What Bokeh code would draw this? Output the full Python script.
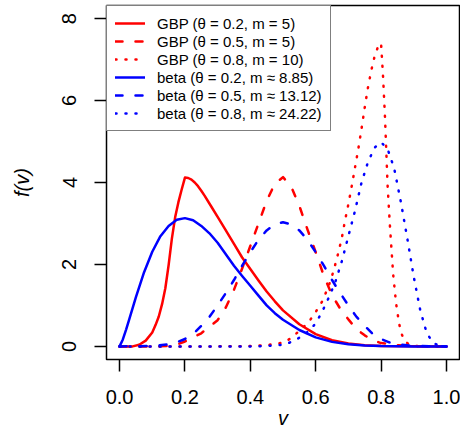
from bokeh.plotting import figure
from bokeh.models import Range1d, FixedTicker, NumeralTickFormatter, Legend, LegendItem
from bokeh.embed import file_html
from bokeh.resources import INLINE

# ---- data ----
x_ticks = [0.0, 0.2, 0.4, 0.6, 0.8, 1.0]
y_ticks = [0, 2, 4, 6, 8]

legend_labels = [
    "GBP (θ = 0.2, m = 5)",
    "GBP (θ = 0.5, m = 5)",
    "GBP (θ = 0.8, m = 10)",
    "beta (θ = 0.2, m ≈ 8.85)",
    "beta (θ = 0.5, m ≈ 13.12)",
    "beta (θ = 0.8, m ≈ 24.22)",
]

v_gbp_02 = [0, 0.04, 0.06, 0.08, 0.1, 0.11, 0.12, 0.13, 0.14, 0.15, 0.16, 0.17, 0.18, 0.19,
            0.2, 0.21, 0.22, 0.23, 0.24, 0.25, 0.26, 0.28, 0.3, 0.32, 0.35, 0.375, 0.4, 0.425, 0.45,
            0.475, 0.5, 0.55, 0.6, 0.65, 0.7, 0.75, 0.8, 0.9, 1.0]
f_gbp_02 = [0, 0, 0.04, 0.14, 0.34, 0.52, 0.73, 1.03, 1.42, 1.98, 2.63, 3.15, 3.52, 3.83,
            4.12, 4.11, 4.07, 4.0, 3.91, 3.8, 3.68, 3.42, 3.16, 2.9, 2.5, 2.17, 1.89, 1.61, 1.34,
            1.1, 0.88, 0.54, 0.3, 0.15, 0.07, 0.03, 0.01, 0.001, 0]

v_gbp_05 = [0, 0.1, 0.15, 0.18, 0.2, 0.25, 0.3, 0.325, 0.35, 0.375, 0.4, 0.425, 0.45, 0.475,
            0.5, 0.525, 0.55, 0.575, 0.6, 0.625, 0.65, 0.675, 0.7, 0.725, 0.75, 0.775, 0.8,
            0.85, 0.9, 1.0]
f_gbp_05 = [0, 0, 0.01, 0.06, 0.12, 0.32, 0.64, 0.95, 1.38, 1.9, 2.45, 3.0, 3.55, 3.97,
            4.13, 3.9, 3.43, 2.85, 2.3, 1.72, 1.25, 0.92, 0.66, 0.42, 0.27, 0.15, 0.08,
            0.03, 0.006, 0]

v_gbp_08 = [0, 0.3, 0.35, 0.4, 0.45, 0.5, 0.52, 0.54, 0.56, 0.58, 0.6, 0.61, 0.62, 0.64,
            0.65, 0.66, 0.67, 0.68, 0.69, 0.7, 0.71, 0.72, 0.73, 0.74, 0.75, 0.76, 0.77,
            0.78, 0.79, 0.8, 0.806, 0.812, 0.82, 0.827, 0.837, 0.846, 0.855, 0.861, 0.873,
            0.89, 0.92, 1.0]
f_gbp_08 = [0, 0, 0.003, 0.01, 0.03, 0.09, 0.18, 0.31, 0.45, 0.61, 0.84, 0.97, 1.1, 1.48,
            1.72, 2.0, 2.31, 2.65, 3.08, 3.47, 3.9, 4.35, 4.8, 5.3, 5.83, 6.32, 6.73,
            7.07, 7.3, 7.4, 6.6, 5.6, 3.93, 2.96, 1.76, 1.05, 0.57, 0.34, 0.12,
            0.03, 0, 0]

v_beta_02 = [0, 0.01, 0.02, 0.03, 0.05, 0.075, 0.1, 0.125, 0.15, 0.175, 0.2, 0.225, 0.25,
             0.275, 0.3, 0.325, 0.35, 0.375, 0.4, 0.425, 0.45, 0.475, 0.5, 0.55, 0.6, 0.65,
             0.7, 0.75, 0.8, 0.9, 1.0]
f_beta_02 = [0, 0.17, 0.41, 0.67, 1.2, 1.81, 2.31, 2.69, 2.94, 3.09, 3.13, 3.08, 2.94,
             2.76, 2.53, 2.25, 1.97, 1.72, 1.48, 1.24, 1.0, 0.81, 0.65, 0.4, 0.22, 0.11,
             0.05, 0.02, 0.007, 0, 0]

v_beta_05 = [0, 0.1, 0.15, 0.175, 0.2, 0.225, 0.25, 0.275, 0.3, 0.325, 0.35, 0.375, 0.4,
             0.425, 0.45, 0.475, 0.5, 0.525, 0.55, 0.575, 0.6, 0.625, 0.65, 0.675, 0.7,
             0.725, 0.75, 0.775, 0.8, 0.825, 0.85, 0.9, 1.0]
f_beta_05 = [0, 0.01, 0.05, 0.1, 0.18, 0.3, 0.5, 0.72, 1.0, 1.3, 1.62, 1.97, 2.3, 2.6,
             2.83, 2.98, 3.03, 2.98, 2.83, 2.6, 2.3, 1.97, 1.62, 1.3, 1.0, 0.72, 0.5,
             0.3, 0.18, 0.1, 0.05, 0.01, 0]

v_beta_08 = [0, 0.4, 0.45, 0.5, 0.52, 0.54, 0.56, 0.58, 0.6, 0.62, 0.64, 0.66, 0.68, 0.7,
             0.72, 0.74, 0.76, 0.78, 0.8, 0.82, 0.84, 0.86, 0.88, 0.9, 0.92, 0.94, 0.96,
             0.98, 1.0]
f_beta_08 = [0, 0, 0.01, 0.04, 0.09, 0.17, 0.25, 0.39, 0.56, 0.85, 1.19, 1.57, 2.08, 2.69,
             3.3, 3.99, 4.5, 4.85, 4.98, 4.82, 4.35, 3.55, 2.65, 1.7, 0.88, 0.32, 0.08,
             0.01, 0]

RED = "#FF0000"
BLUE = "#0000FF"
FONT = "Liberation Sans"
LW = 2.5
DASH = "7 13"
DOT = "1 9"

p = figure(width=460, height=441, output_backend="svg", toolbar_location=None,
           x_range=Range1d(-0.04, 1.04), y_range=Range1d(-0.32, 8.32),
           min_border_left=106, min_border_right=1, min_border_top=5, min_border_bottom=82)
p.grid.visible = False
p.outline_line_color = "black"
p.outline_line_width = 1.5
p.background_fill_color = "white"
p.border_fill_color = "white"

series = [
    (v_gbp_02, f_gbp_02, RED, "solid"),
    (v_gbp_05, f_gbp_05, RED, DASH),
    (v_gbp_08, f_gbp_08, RED, DOT),
    (v_beta_02, f_beta_02, BLUE, "solid"),
    (v_beta_05, f_beta_05, BLUE, DASH),
    (v_beta_08, f_beta_08, BLUE, DOT),
]
renderers = []
for vx, fy, col, dash in series:
    r = p.line(vx, fy, line_color=col, line_width=LW, line_dash=dash,
               line_cap="round", line_join="round")
    renderers.append(r)

items = [LegendItem(label=lab, renderers=[r]) for lab, r in zip(legend_labels, renderers)]
legend = Legend(items=items, location="top_left", margin=0, padding=8, spacing=0,
                label_standoff=12, glyph_width=30, glyph_height=18, label_height=18,
                label_text_font=FONT, label_text_font_size="15px",
                label_text_color="black",
                border_line_color="black", border_line_width=1.5,
                background_fill_color="white", background_fill_alpha=1.0)
p.add_layout(legend)

p.xaxis.ticker = FixedTicker(ticks=x_ticks)
p.xaxis.formatter = NumeralTickFormatter(format="0.0")
p.yaxis.ticker = FixedTicker(ticks=y_ticks)
p.yaxis.formatter = NumeralTickFormatter(format="0")
p.yaxis.major_label_orientation = "parallel"

for ax in (p.xaxis[0], p.yaxis[0]):
    ax.axis_line_color = None
    ax.major_tick_out = 12
    ax.major_tick_in = 0
    ax.major_tick_line_width = 1.5
    ax.major_tick_line_color = "black"
    ax.minor_tick_line_color = None
    ax.major_label_text_font = FONT
    ax.major_label_text_font_size = "20px"
    ax.major_label_text_color = "black"
    ax.axis_label_text_font = FONT
    ax.axis_label_text_font_size = "20px"
    ax.axis_label_text_font_style = "italic"
    ax.axis_label_text_color = "black"

p.xaxis.major_label_standoff = 18
p.yaxis.major_label_standoff = 18
p.xaxis.axis_label = "v"
p.yaxis.axis_label = "f(v)"
p.xaxis.axis_label_standoff = 0
p.yaxis.axis_label_standoff = 27

open("out.html", "w").write(file_html(p, INLINE))
